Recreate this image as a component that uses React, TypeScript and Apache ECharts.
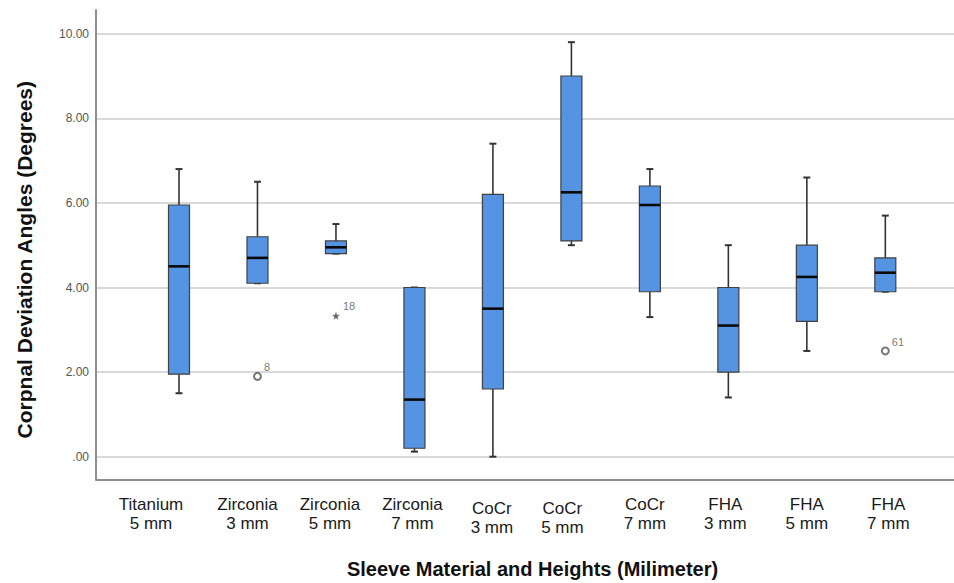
import React, { useEffect, useRef } from "react";
import * as echarts from "echarts";

const categories = [
  "Titanium\n5 mm",
  "Zirconia\n3 mm",
  "Zirconia\n5 mm",
  "Zirconia\n7 mm",
  "CoCr\n3 mm",
  "CoCr\n5 mm",
  "CoCr\n7 mm",
  "FHA\n3 mm",
  "FHA\n5 mm",
  "FHA\n7 mm",
];
const mins = [1.5, 4.1, 4.8, 0.12, 0.0, 5.0, 3.3, 1.4, 2.5, 3.9];
const q1s = [1.95, 4.1, 4.8, 0.2, 1.6, 5.1, 3.9, 2.0, 3.2, 3.9];
const medians = [4.5, 4.7, 4.95, 1.35, 3.5, 6.25, 5.95, 3.1, 4.25, 4.35];
const q3s = [5.95, 5.2, 5.1, 4.0, 6.2, 9.0, 6.4, 4.0, 5.0, 4.7];
const maxs = [6.8, 6.5, 5.5, 4.0, 7.4, 9.8, 6.8, 5.0, 6.6, 5.7];

// outliers: [category index, value, case label]
const circleOutliers: [number, number, string][] = [
  [1, 1.9, "8"],
  [9, 2.5, "61"],
];
const extremeOutliers: [number, number, string][] = [[2, 3.33, "18"]];

const yTicks = { min: 0, max: 10, interval: 2 };

const STAR =
  "path://M0,-5L1.2,-1.6L4.8,-1.5L1.9,0.6L2.9,4L0,2L-2.9,4L-1.9,0.6L-4.8,-1.5L-1.2,-1.6Z";

// label paddings [top, right, bottom, left] reproducing the original label placement
const labelPads = [
  [0, 56, 0, 0],
  [0, 20, 0, 0],
  [0, 12, 0, 0],
  [0, 4, 0, 0],
  [4, 2, 0, 0],
  [4, 18, 0, 0],
  [0, 10, 0, 0],
  [0, 6, 0, 0],
  [0, 0, 0, 0],
  [0, 0, 0, 6],
];

export default function App() {
  const ref = useRef<HTMLDivElement>(null);
  useEffect(() => {
    if (!ref.current) return;
    const chart = echarts.init(ref.current, undefined, { renderer: "svg" });
    const boxData = categories.map((_, i) => [i, mins[i], q1s[i], medians[i], q3s[i], maxs[i]]);
    const gridTop = 33.7;
    const gridBottom = 583 - 456.7;
    const font = "'Liberation Sans', Arial, sans-serif";
    const catData = categories.map((c, i) => ({
      value: c,
      textStyle: { padding: labelPads[i] },
    }));
    const option: any = {
      animation: false,
      backgroundColor: "#ffffff",
      grid: [
        { left: 96, right: 0, top: 10, bottom: 583 - 479.3 },
        { left: 96, right: 0, top: gridTop, bottom: gridBottom },
        { left: 139.76, width: 784.8, top: gridTop, bottom: gridBottom },
      ],
      xAxis: [
        {
          gridIndex: 0,
          type: "value",
          min: 0,
          max: 1,
          axisLine: { show: true, lineStyle: { color: "#8f8f8f", width: 2 } },
          axisTick: { show: false },
          axisLabel: { show: false },
          splitLine: { show: false },
        },
        { gridIndex: 1, type: "value", min: 0, max: 1, show: false },
        {
          gridIndex: 2,
          type: "category",
          data: catData,
          axisLine: { show: false },
          axisTick: { show: false },
          splitLine: { show: false },
          axisLabel: {
            interval: 0,
            margin: 38,
            fontFamily: font,
            fontSize: 17,
            lineHeight: 19,
            color: "#1a1a1a",
            align: "center",
          },
        },
      ],
      yAxis: [
        {
          gridIndex: 0,
          type: "value",
          min: 0,
          max: 1,
          axisLine: { show: true, lineStyle: { color: "#8f8f8f", width: 2 } },
          axisTick: { show: false },
          axisLabel: { show: false },
          splitLine: { show: false },
        },
        {
          gridIndex: 1,
          type: "value",
          min: yTicks.min,
          max: yTicks.max,
          interval: yTicks.interval,
          axisLine: { show: false },
          axisTick: { show: false },
          splitLine: { show: true, lineStyle: { color: "#d9d9d9", width: 2 } },
          axisLabel: {
            margin: 7,
            fontFamily: font,
            fontSize: 12,
            color: "#555555",
            formatter: (v: number) => {
              const s = v.toFixed(2);
              return s.startsWith("0") ? s.slice(1) : s;
            },
          },
        },
        { gridIndex: 2, type: "value", min: yTicks.min, max: yTicks.max, show: false },
      ],
      graphic: [
        {
          type: "text",
          x: 24,
          y: 259.7,
          rotation: Math.PI / 2,
          style: {
            text: "Corpnal Deviation Angles (Degrees)",
            fontFamily: font,
            fontWeight: "bold",
            fontSize: 21,
            fill: "#111111",
            align: "center",
            verticalAlign: "middle",
          },
        },
        {
          type: "text",
          x: 532.5,
          y: 569,
          style: {
            text: "Sleeve Material and Heights (Milimeter)",
            fontFamily: font,
            fontWeight: "bold",
            fontSize: 20,
            fill: "#111111",
            align: "center",
            verticalAlign: "middle",
          },
        },
      ],
      series: [
        {
          type: "custom",
          xAxisIndex: 2,
          yAxisIndex: 2,
          encode: { x: 0, y: [1, 2, 3, 4, 5] },
          data: boxData,
          renderItem: (params: any, api: any) => {
            const x = api.value(0);
            const pMin = api.coord([x, api.value(1)]);
            const pQ1 = api.coord([x, api.value(2)]);
            const pMed = api.coord([x, api.value(3)]);
            const pQ3 = api.coord([x, api.value(4)]);
            const pMax = api.coord([x, api.value(5)]);
            const cx = pMed[0];
            const half = 10.5;
            const cap = 3.5;
            const wStyle = { stroke: "#333333", lineWidth: 1.6 };
            return {
              type: "group",
              children: [
                { type: "line", shape: { x1: cx, y1: pMax[1], x2: cx, y2: pQ3[1] }, style: wStyle },
                { type: "line", shape: { x1: cx, y1: pMin[1], x2: cx, y2: pQ1[1] }, style: wStyle },
                { type: "line", shape: { x1: cx - cap, y1: pMax[1], x2: cx + cap, y2: pMax[1] }, style: { stroke: "#333333", lineWidth: 2 } },
                { type: "line", shape: { x1: cx - cap, y1: pMin[1], x2: cx + cap, y2: pMin[1] }, style: { stroke: "#333333", lineWidth: 2 } },
                {
                  type: "rect",
                  shape: { x: cx - half, y: pQ3[1], width: half * 2, height: pQ1[1] - pQ3[1] },
                  style: { fill: "#5594e3", stroke: "#404040", lineWidth: 1.2 },
                },
                {
                  type: "line",
                  shape: { x1: cx - half, y1: pMed[1], x2: cx + half, y2: pMed[1] },
                  style: { stroke: "#0a0a0a", lineWidth: 2.6 },
                },
              ],
            };
          },
        },
        {
          type: "scatter",
          xAxisIndex: 2,
          yAxisIndex: 2,
          symbol: "emptyCircle",
          symbolSize: 7,
          itemStyle: { color: "#555555", borderColor: "#555555", borderWidth: 1.3 },
          label: {
            show: true,
            position: "right",
            distance: 2,
            offset: [0, -9],
            fontFamily: font,
            fontSize: 11,
            color: "#555555",
            textBorderWidth: 0,
            formatter: (p: any) => p.value[2],
          },
          data: circleOutliers,
        },
        {
          type: "scatter",
          xAxisIndex: 2,
          yAxisIndex: 2,
          symbol: STAR,
          symbolSize: 8,
          itemStyle: { color: "#444444" },
          label: {
            show: true,
            position: "right",
            distance: 3,
            offset: [0, -10],
            fontFamily: font,
            fontSize: 11,
            color: "#555555",
            textBorderWidth: 0,
            formatter: (p: any) => p.value[2],
          },
          data: extremeOutliers,
        },
      ],
    };
    chart.setOption(option);
    return () => chart.dispose();
  }, []);
  return (
    <div
      ref={ref}
      style={{ position: "fixed", left: 0, top: 0, width: 954, height: 583, background: "#fff" }}
    />
  );
}
